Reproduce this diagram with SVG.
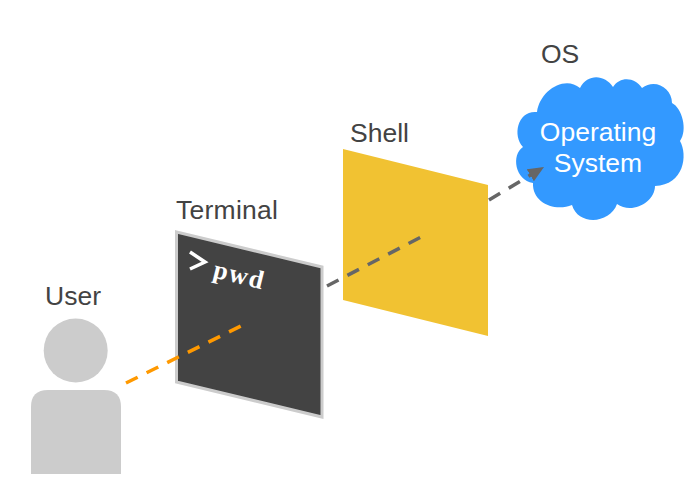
<svg xmlns="http://www.w3.org/2000/svg" width="698" height="490" viewBox="0 0 698 490">
<style>
.l{font-family:"Liberation Sans",Arial,sans-serif;font-size:26.500px;fill:#434343}
.c{font-family:"Liberation Sans",Arial,sans-serif;font-size:26.500px;fill:#fff;text-anchor:middle}
.d{fill:none;stroke-width:3.500;stroke-dasharray:13 10}
</style>
<defs><marker id="a" markerUnits="userSpaceOnUse" markerWidth="18" markerHeight="16" refX="16" refY="7" orient="auto"><path d="M0 0L16 7L0 14Z" fill="#666"/></marker></defs>
<g id="user"><circle cx="75.700" cy="350.500" r="32" fill="#ccc"/><path d="M31 474V407Q31 390 48 390H104Q121 390 121 407V474Z" fill="#ccc"/><text class="l" x="45" y="305">User</text></g>
<g id="terminal"><path d="M176.500 232L322 267V417L176.500 382Z" fill="#434343" stroke="#ccc" stroke-width="3"/><text class="l" x="176" y="219" textLength="102">Terminal</text>
<path d="M190 252L205 262L190 269" fill="none" stroke="#fff" stroke-width="3.500"/>
<text transform="translate(212 277) rotate(14)" font-family="'Liberation Serif',serif" font-weight="700" font-size="26" letter-spacing="1.500" fill="#fff">pwd</text></g>
<g id="shell"><path d="M343 149L488 185V336L343 300Z" fill="#f1c232"/><text class="l" x="350" y="142">Shell</text></g>
<g id="os"><path d="M537 112C540 90 565 75 580 88C588 73 605 75 613 87C620 76 635 77 642 88C655 78 672 88 672 103C682 108 688 130 680 141C688 155 684 185 655 186C655 202 632 215 617 204C610 224 578 226 572 205C555 212 532 203 533 183C515 180 511 155 523 147C512 135 518 110 537 112Z" fill="#39f"/><text class="l" x="541" y="63">OS</text><text class="c" x="598" y="141">Operating</text><text class="c" x="598" y="172">System</text></g>
<g id="connectors"><path class="d" stroke="#f90" d="M126 383L241 326"/><path class="d" stroke="#666" stroke-dasharray="12 9.500" d="M327 286L421 237"/><path class="d" stroke="#666" stroke-width="3" stroke-dasharray="10 8" marker-end="url(#a)" d="M489 200L544 167"/></g>
</svg>
